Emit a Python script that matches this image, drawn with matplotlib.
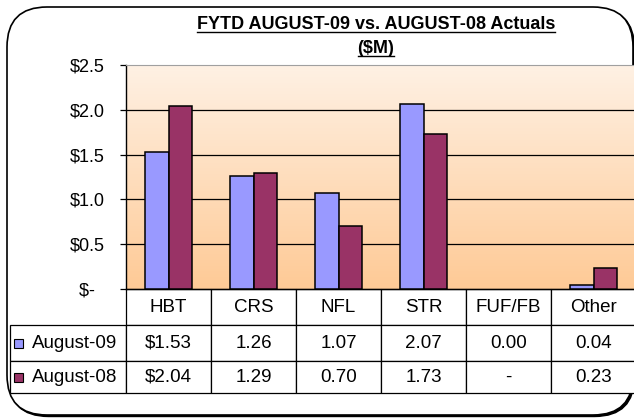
import numpy as np
import matplotlib
matplotlib.use('Agg')
import matplotlib.pyplot as plt
from matplotlib.colors import LinearSegmentedColormap
from matplotlib.patches import FancyBboxPatch, Rectangle
from matplotlib.lines import Line2D
from matplotlib.table import Table
from matplotlib.transforms import IdentityTransform

plt.rcParams['font.family'] = ['Liberation Sans', 'DejaVu Sans']

categories = ['HBT', 'CRS', 'NFL', 'STR', 'FUF/FB', 'Other']
series_names = ['August-09', 'August-08']
aug09 = [1.53, 1.26, 1.07, 2.07, 0.00, 0.04]
aug08 = [2.04, 1.29, 0.70, 1.73, np.nan, 0.23]
y_ticks = [0.0, 0.5, 1.0, 1.5, 2.0, 2.5]
y_tick_labels = ['$-  ', '$0.5', '$1.0', '$1.5', '$2.0', '$2.5']

colors = ['#9999FF', '#993366']
W, H = 634, 418


def fmt(v, first):
    # table cell text, excel accounting style
    if np.isnan(v):
        return '-'
    return f'${v:.2f}' if first else f'{v:.2f}'


fig = plt.figure(figsize=(W / 100, H / 100), dpi=100)

# outer rounded frame with shadow (pixel coords)
shadow = FancyBboxPatch((8.5, 1.5), 626, 408, boxstyle='round,pad=0,rounding_size=40',
                        transform=IdentityTransform(), facecolor='black', edgecolor='black',
                        lw=1, zorder=-3)
frame = FancyBboxPatch((7, 3), 626, 408, boxstyle='round,pad=0,rounding_size=40',
                       transform=IdentityTransform(), facecolor='white', edgecolor='black',
                       lw=1.2, zorder=-2)
fig.add_artist(shadow)
fig.add_artist(frame)

ax_l, ax_r, ax_t, ax_b = 126, 636, 65, 289
aw, ah = ax_r - ax_l, ax_b - ax_t
ax = fig.add_axes([ax_l / W, (H - ax_b) / H, aw / W, ah / H])

# peach gradient background
grad = np.linspace(0, 1, 256).reshape(-1, 1)
cmap = LinearSegmentedColormap.from_list('peach', ['#FFCA96', '#FEF1E4'])
ax.imshow(grad, cmap=cmap, extent=[-0.5, 5.5, 0, 2.5], origin='lower',
          aspect='auto', zorder=0)

for v in y_ticks[1:-1]:
    ax.axhline(v, color='black', lw=0.9, zorder=1)

x = np.arange(len(categories))
bw = 0.28
# zero / missing values draw no bar
h09 = np.where(np.array(aug09) > 0, aug09, np.nan)
h08 = np.where(np.array(aug08) > 0, aug08, np.nan)
ax.bar(x - bw / 2, h09, bw, color=colors[0], edgecolor='black', lw=1.1, zorder=3)
ax.bar(x + bw / 2, h08, bw, color=colors[1], edgecolor='black', lw=1.1, zorder=3)

ax.set_xlim(-0.5, 5.5)
ax.set_ylim(0, 2.5)
ax.set_xticks([])
ax.set_yticks(y_ticks)
ax.set_yticklabels(y_tick_labels)
ax.tick_params(axis='y', length=4, width=0.9, pad=11, labelsize=13)
for s in ['top', 'right']:
    ax.spines[s].set_color('#A0A0A0')
for s in ['left', 'bottom']:
    ax.spines[s].set_color('black')
    ax.spines[s].set_linewidth(1)

# data table under the chart
tb_l, tb_b = 10, 393
tbl = Table(ax, bbox=[(tb_l - ax_l) / aw, -(tb_b - ax_b) / ah, (ax_r - tb_l) / aw, (tb_b - ax_b) / ah])
col_w = [116] + [85] * len(categories)
row_h = [36, 36, 32]

corner = tbl.add_cell(0, 0, col_w[0], row_h[0], text='', facecolor='none')
corner.visible_edges = ''
for j, c in enumerate(categories):
    tbl.add_cell(0, j + 1, col_w[j + 1], row_h[0], text=c, loc='center', facecolor='white')
for i, (name, vals) in enumerate(zip(series_names, [aug09, aug08])):
    cell = tbl.add_cell(i + 1, 0, col_w[0], row_h[i + 1], text=name, loc='left', facecolor='white')
    cell.PAD = 0.19
    for j, v in enumerate(vals):
        tbl.add_cell(i + 1, j + 1, col_w[j + 1], row_h[i + 1], text=fmt(v, j == 0),
                     loc='center', facecolor='white')
tbl.auto_set_font_size(False)
tbl.set_fontsize(13.5)
for cell in tbl.get_celld().values():
    cell.set_linewidth(0.9)
ax.add_table(tbl)

# legend keys in the row labels
row_centres = [ax_b + row_h[0] + row_h[1] / 2, ax_b + row_h[0] + row_h[1] + row_h[2] / 2]
for col, yc in zip(colors, row_centres):
    fig.add_artist(Rectangle((14, H - yc - 4.5), 9, 9, transform=IdentityTransform(),
                             facecolor=col, edgecolor='black', lw=0.8))

# underlined title
t1 = fig.text(376 / W, (H - 29) / H, 'FYTD AUGUST-09 vs. AUGUST-08 Actuals',
              ha='center', va='baseline', fontsize=13, fontweight='bold')
t2 = fig.text(376 / W, (H - 53) / H, '($M)', ha='center', va='baseline',
              fontsize=13, fontweight='bold')
fig.canvas.draw()
r = fig.canvas.get_renderer()
for t in (t1, t2):
    bb = t.get_window_extent(r)
    yl = t.get_position()[1] * H - 2.5
    fig.add_artist(Line2D([bb.x0, bb.x1], [yl, yl], transform=IdentityTransform(),
                          color='black', lw=1))

fig.savefig('out.png', dpi=100)
